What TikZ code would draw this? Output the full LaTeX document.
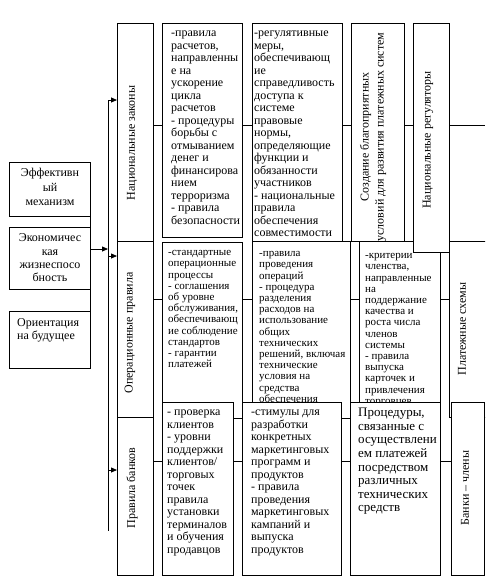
\documentclass[tikz,border=0pt]{standalone}
\usepackage{fontspec}
\setmainfont{Liberation Serif}
\usetikzlibrary{arrows.meta}
\newcommand\mybox[5]{\node[bx, minimum width={#4-#2}, minimum height={#5-#3}] (#1) at ({(#2+#4)/2},{(#3+#5)/2}) {};}
\newcommand\fl{\rule{0pt}{10pt}}
\begin{document}
\begin{tikzpicture}[x=1pt,y=-1pt,
  bx/.style={draw, fill=white, line width=0.8pt, inner sep=0pt, outer sep=0pt},
  txt/.style={anchor=north west, inner sep=0pt, align=left},
  conn/.style={line width=0.8pt},
  arr/.style={line width=0.8pt, -{Triangle[length=6pt,width=5pt]}},
  fA/.style={font=\fontsize{12}{12.5}\selectfont},
  fB/.style={font=\fontsize{11}{11.2}\selectfont},
  fC/.style={font=\fontsize{13}{13.6}\selectfont},
  vlab/.style={rotate=90, inner sep=0pt, font=\fontsize{12}{15}\selectfont}]
\useasboundingbox (0,0) rectangle (485,576);
\clip (0,0) rectangle (485,576);
% left column
\mybox{bA}{9}{162}{90}{216}
\mybox{bB}{9}{227}{90}{289}
\mybox{bC}{9}{311}{90}{368}
\draw[conn] (bA.north east) -- (bC.south east);
\node[anchor=north, inner sep=0pt, align=center, font=\fontsize{12}{14.5}\selectfont] (tA) at (50,166.5) {\fl Эффективн\\ый\\механизм};
\node[anchor=north, inner sep=0pt, align=center, font=\fontsize{12}{13.4}\selectfont] (tB) at (50,231.5) {\fl Экономичес\\кая\\жизнеспосо\\бность};
\node[txt, fA] (tC) at (17,316.5) {\fl Ориентация\\на будущее};
% bus
\coordinate (bustop) at (108,100);
\coordinate (busbot) at (108,531);
\coordinate (a0) at (0,249);
\coordinate (a1) at (0,100);
\coordinate (a2) at (0,256);
\coordinate (a3) at (0,470);
\draw[conn] (bustop) -- (busbot);
% category boxes
\mybox{cat1}{117}{23}{153}{241}
\mybox{cat2}{117}{241}{153}{417}
\mybox{cat3}{117}{417}{153}{575}
\draw[arr] (bB.east |- a0) -- (bustop |- a0);
\draw[arr] (bustop |- a1) -- (cat1.west |- a1);
\draw[arr] (bustop |- a2) -- (cat2.west |- a2);
\draw[arr] (bustop |- a3) -- (cat3.west |- a3);
\node[vlab] (l1) at (132,143) {Национальные законы};
\node[vlab] (l2) at (130,333) {Операционные правила};
\node[vlab] (l3) at (132,488) {Правила банков};
% row 1
\mybox{b11}{162}{23}{242}{237}
\mybox{b12}{252}{23}{342}{241}
\mybox{b13}{351}{23}{404}{241}
\node[txt, fA] (t11) at (171,26.5) {\fl -правила\\расчетов,\\направленны\\е на\\ускорение\\цикла\\расчетов\\- процедуры\\борьбы с\\отмыванием\\денег и\\финансирова\\нием\\терроризма\\- правила\\безопасности};
\node[txt, fA] (t12) at (254,26.5) {\fl -регулятивные\\меры,\\обеспечивающ\\ие\\справедливость\\доступа к\\системе\\правовые\\нормы,\\определяющие\\функции и\\обязанности\\участников\\- национальные\\правила\\обеспечения\\совместимости};
\node[vlab, align=center] (t13) at (373,137) {Создание благоприятных\\условий для развития платежных систем};
% row 2
\mybox{b21}{162}{242}{242}{418}
\mybox{b22}{252}{241}{350}{418}
\mybox{b23}{359}{241}{440}{418}
\mybox{b24}{449}{241}{495}{417}
\node[txt, fB] (t21) at (168,245.5) {\fl -стандартные\\операционные\\процессы\\- соглашения\\об уровне\\обслуживания,\\обеспечивающ\\ие соблюдение\\стандартов\\- гарантии\\платежей};
\node[txt, fB] (t22) at (259,246.5) {\fl -правила\\проведения\\операций\\- процедура\\разделения\\расходов на\\использование\\общих\\технических\\решений, включая\\технические\\условия на\\средства\\обеспечения};
\node[txt, fB] (t23) at (365,248.5) {\fl -критерии\\членства,\\направленные\\на\\поддержание\\качества и\\роста числа\\членов\\системы\\- правила\\выпуска\\карточек и\\привлечения\\торговцев};
\node[vlab] (l24) at (462,329) {Платежные схемы};
% box 1.4 over row 2
\mybox{b14}{413}{23}{449}{252}
\node[vlab] (l14) at (428,140) {Национальные регуляторы};
% row 3
\mybox{b31}{162}{402}{233}{575}
\mybox{b32}{242}{402}{341}{575}
\mybox{b33}{350}{402}{440}{575}
\mybox{b34}{451}{402}{484.4}{575}
\node[txt, fA] (t31) at (167,405.5) {\fl - проверка\\клиентов\\- уровни\\поддержки\\клиентов/\\торговых\\точек\\правила\\установки\\терминалов\\и обучения\\продавцов};
\node[txt, fA] (t32) at (251,405.5) {\fl -стимулы для\\разработки\\конкретных\\маркетинговых\\программ и\\продуктов\\- правила\\проведения\\маркетинговых\\кампаний и\\выпуска\\продуктов};
\node[txt, fC] (t33) at (358,406.5) {\fl Процедуры,\\связанные с\\осуществлени\\ем платежей\\посредством\\различных\\технических\\средств};
\node[vlab] (l34) at (465,488) {Банки – члены};
% row connectors
\coordinate (r1) at (0,125);
\coordinate (r2) at (0,299);
\coordinate (r3) at (0,461);
\coordinate (rend) at (485,125);
\draw[conn] (cat1.east |- r1) -- (b11.west |- r1);
\draw[conn] (b11.east |- r1) -- (b12.west |- r1);
\draw[conn] (b12.east |- r1) -- (b13.west |- r1);
\draw[conn] (b13.east |- r1) -- (b14.west |- r1);
\draw[conn] (b14.east |- r1) -- (rend);
\draw[conn] (cat2.east |- r2) -- (b21.west |- r2);
\draw[conn] (b21.east |- r2) -- (b22.west |- r2);
\draw[conn] (b22.east |- r2) -- (b23.west |- r2);
\draw[conn] (b23.east |- r2) -- (b24.west |- r2);
\draw[conn] (cat3.east |- r3) -- (b31.west |- r3);
\draw[conn] (b31.east |- r3) -- (b32.west |- r3);
\draw[conn] (b32.east |- r3) -- (b33.west |- r3);
\draw[conn] (b33.east |- r3) -- (b34.west |- r3);
\end{tikzpicture}
\end{document}
